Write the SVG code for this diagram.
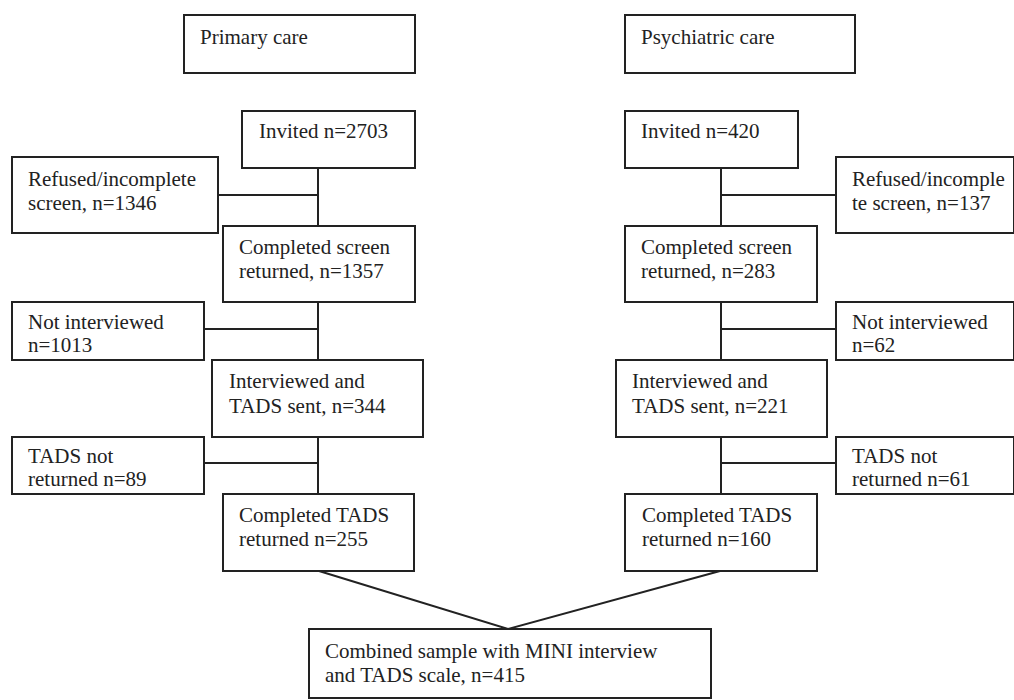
<svg xmlns="http://www.w3.org/2000/svg" width="1014" height="700" viewBox="0 0 1014 700">
<style>
rect{fill:#fff;stroke:#222;stroke-width:2}
line,polyline{stroke:#222;stroke-width:2;fill:none}
text{font-family:"Liberation Serif","Times New Roman",serif;font-size:21px;fill:#222}
</style>
<rect x="0" y="0" width="1014" height="700" style="stroke:none"/>
<g id="connectors">
<line x1="318" y1="168" x2="318" y2="226"/>
<line x1="218" y1="195" x2="318" y2="195"/>
<line x1="318" y1="302" x2="318" y2="360"/>
<line x1="204" y1="329" x2="318" y2="329"/>
<line x1="318" y1="437" x2="318" y2="494"/>
<line x1="204" y1="463" x2="318" y2="463"/>
<line x1="721" y1="168" x2="721" y2="226"/>
<line x1="721" y1="195" x2="836" y2="195"/>
<line x1="721" y1="302" x2="721" y2="360"/>
<line x1="721" y1="329" x2="836" y2="329"/>
<line x1="721" y1="437" x2="721" y2="494"/>
<line x1="721" y1="463" x2="836" y2="463"/>
<polyline points="319,571 508,629 720,571"/>
</g>
<g id="primary-care"><rect x="184" y="15" width="231" height="58"/><text x="200" y="44">Primary care</text></g>
<g id="psychiatric-care"><rect x="625" y="15" width="230" height="58"/><text x="641" y="44">Psychiatric care</text></g>
<g id="invited-pc"><rect x="242" y="111" width="173" height="57"/><text x="259" y="138">Invited n=2703</text></g>
<g id="invited-psy"><rect x="625" y="111" width="173" height="57"/><text x="641" y="138">Invited n=420</text></g>
<g id="refused-pc"><rect x="12" y="157" width="206" height="76"/><text x="28" y="186">Refused/incomplete</text><text x="28" y="210">screen, n=1346</text></g>
<g id="refused-psy"><rect x="836" y="157" width="178" height="76"/><text x="852" y="186">Refused/incomple</text><text x="852" y="210">te screen, n=137</text></g>
<g id="screen-pc"><rect x="223" y="226" width="192" height="76"/><text x="239" y="254">Completed screen</text><text x="239" y="278">returned, n=1357</text></g>
<g id="screen-psy"><rect x="625" y="226" width="192" height="76"/><text x="641" y="254">Completed screen</text><text x="641" y="278">returned, n=283</text></g>
<g id="notint-pc"><rect x="12" y="302" width="192" height="58"/><text x="28" y="329">Not interviewed</text><text x="28" y="352">n=1013</text></g>
<g id="notint-psy"><rect x="836" y="302" width="178" height="58"/><text x="852" y="329">Not interviewed</text><text x="852" y="352">n=62</text></g>
<g id="int-pc"><rect x="212" y="360" width="211" height="77"/><text x="229" y="388">Interviewed and</text><text x="229" y="413">TADS sent, n=344</text></g>
<g id="int-psy"><rect x="616" y="360" width="211" height="77"/><text x="632" y="388">Interviewed and</text><text x="632" y="413">TADS sent, n=221</text></g>
<g id="notret-pc"><rect x="12" y="437" width="192" height="57"/><text x="28" y="463">TADS not</text><text x="28" y="486">returned n=89</text></g>
<g id="notret-psy"><rect x="836" y="437" width="178" height="57"/><text x="852" y="463">TADS not</text><text x="852" y="486">returned n=61</text></g>
<g id="tads-pc"><rect x="223" y="494" width="191" height="77"/><text x="239" y="522">Completed TADS</text><text x="239" y="546">returned n=255</text></g>
<g id="tads-psy"><rect x="625" y="494" width="192" height="77"/><text x="642" y="522">Completed TADS</text><text x="642" y="546">returned n=160</text></g>
<g id="combined"><rect x="309" y="629" width="402" height="69"/><text x="325" y="658">Combined sample with MINI interview</text><text x="325" y="682">and TADS scale, n=415</text></g>
</svg>
